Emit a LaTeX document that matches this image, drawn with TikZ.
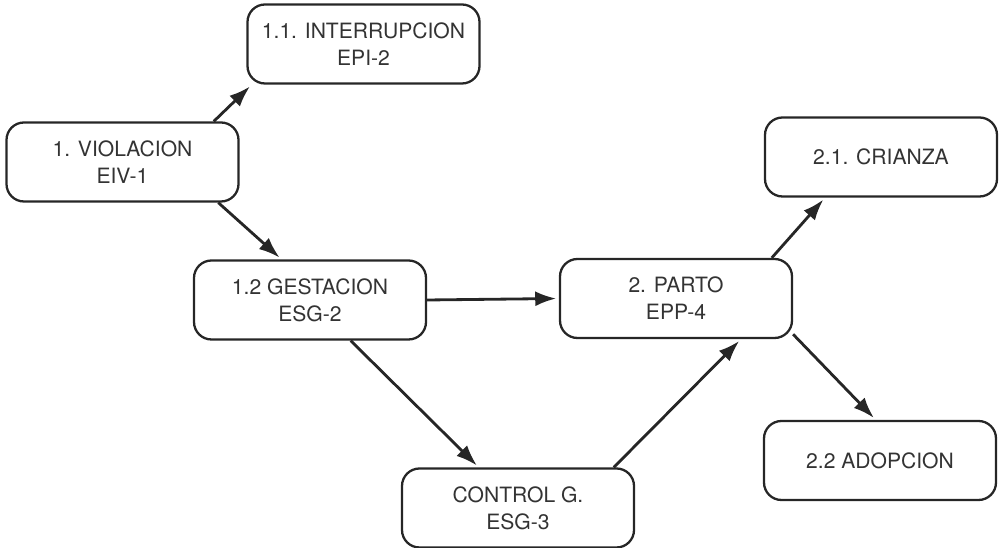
\documentclass[tikz,border=0pt]{standalone}
\usepackage{fontspec}
\setmainfont{TeX Gyre Heros}
\usetikzlibrary{arrows.meta}
\begin{document}
\begin{tikzpicture}[x=0.2mm,y=0.2mm,
  estado/.style={draw=black!85, line width=1.3pt, rounded corners=3.5mm, minimum width=46.4mm, minimum height=15.8mm, align=center, text=black!80, font=\fontsize{12}{15.4}\selectfont},
  paso/.style={draw=black!85, line width=1.6pt, -{Latex[length=4.2mm,width=3mm]}, shorten >=1.5pt}]
\useasboundingbox (0,0) rectangle (1000,548);
\node [estado] (int) at (363.5,504) {1.1. INTERRUPCION\\EPI-2};
\node [estado] (vio) at (122.5,386) {1. VIOLACION\\EIV-1};
\node [estado] (ges) at (310,248) {1.2 GESTACION\\ESG-2};
\node [estado] (par) at (676,249.5) {2. PARTO\\EPP-4};
\node [estado] (con) at (518,40) {CONTROL G.\\ESG-3};
\node [estado] (cri) at (881,391) {2.1. CRIANZA};
\node [estado] (ado) at (880,87.5) {2.2 ADOPCION};
\draw [paso] (vio.24) -- (int.200);
\draw [paso] (vio.-23) -- (ges.125);
\draw [paso] (ges.east) -- (par.west);
\draw [paso] (ges.-45) -- (con.134);
\draw [paso] (con.23) -- (par.-32);
\draw [paso] (par.23.5) -- (cri.216);
\draw [paso] (par.-17) -- (ado.96);
\end{tikzpicture}
\end{document}
